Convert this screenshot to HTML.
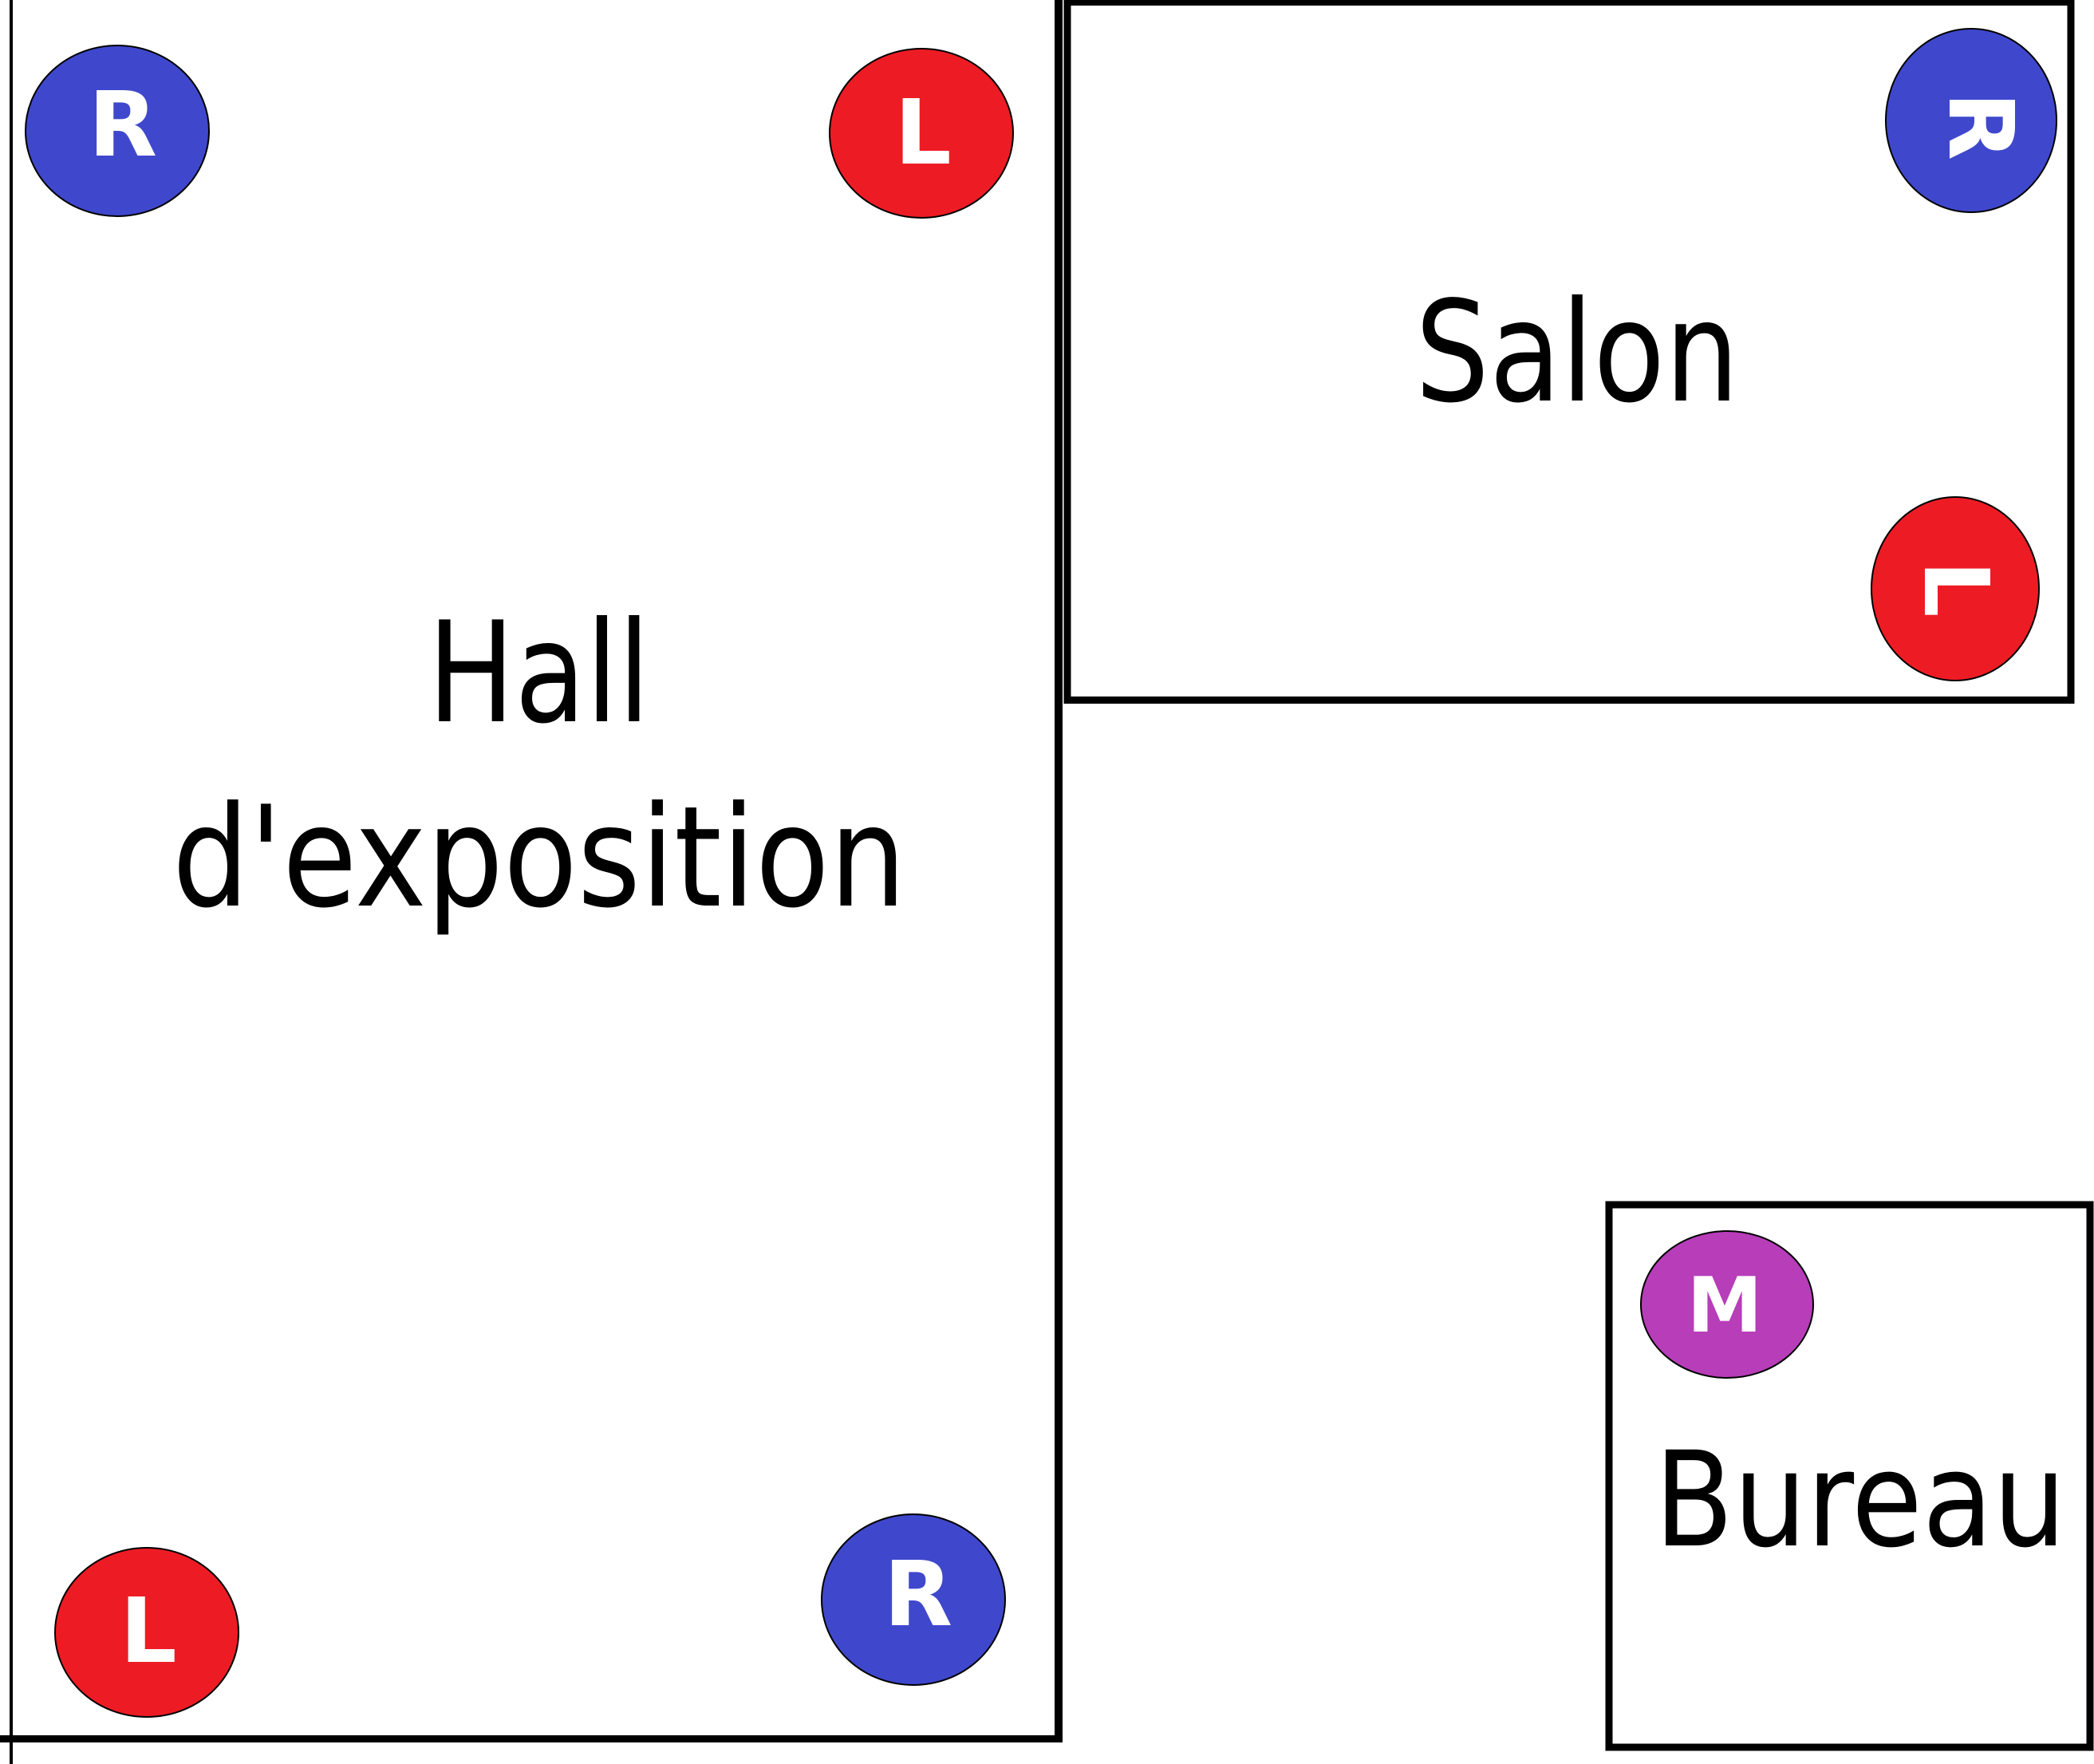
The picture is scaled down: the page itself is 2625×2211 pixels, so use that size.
<!DOCTYPE html>
<html><head><meta charset="utf-8"><style>
html,body{margin:0;padding:0;background:#fff;}
svg{display:block;}
</style></head><body>
<svg width="2625" height="2211" viewBox="0 0 2625 2211" xmlns="http://www.w3.org/2000/svg">
<rect x="0" y="0" width="2625" height="2211" fill="#fff"/>
<rect x="12" y="0" width="4" height="2211" fill="#000"/>
<rect x="1322" y="0" width="10" height="2184" fill="#000"/>
<rect x="0" y="2175" width="1332" height="9" fill="#000"/>
<rect x="1338" y="2.5" width="1258" height="875" fill="none" stroke="#000" stroke-width="9"/>
<rect x="2017" y="1510" width="603" height="680" fill="none" stroke="#000" stroke-width="9"/>

<g font-family="'DejaVu Sans','Liberation Sans',sans-serif" fill="#000">
<text x="536" y="904" font-size="175" textLength="279" lengthAdjust="spacingAndGlyphs">Hall</text>
<text x="216" y="1135" font-size="175" textLength="920" lengthAdjust="spacingAndGlyphs">d'exposition</text>
<text x="1774" y="502" font-size="175" textLength="406" lengthAdjust="spacingAndGlyphs">Salon</text>
<text x="2074" y="1937" font-size="165" textLength="516" lengthAdjust="spacingAndGlyphs">Bureau</text>
</g>

<g stroke="#000" stroke-width="2">
<ellipse cx="147" cy="164" rx="115" ry="107" fill="#3f48cc"/>
<ellipse cx="1155" cy="167" rx="115" ry="106" fill="#ed1c24"/>
<ellipse cx="184" cy="2046" rx="115" ry="106" fill="#ed1c24"/>
<ellipse cx="1145" cy="2005" rx="115" ry="107" fill="#3f48cc"/>
<ellipse cx="2471" cy="151" rx="107" ry="115" fill="#3f48cc"/>
<ellipse cx="2451" cy="738" rx="105" ry="115" fill="#ed1c24"/>
<ellipse cx="2165" cy="1635" rx="108" ry="92" fill="#b73db9"/>
</g>
<g font-family="'DejaVu Sans','Liberation Sans',sans-serif" font-weight="bold" fill="#fff" font-size="112" text-anchor="middle">
<text x="154" y="195">R</text>
<text x="1157" y="205">L</text>
<text x="186" y="2083">L</text>
<text x="1151" y="2037">R</text>
<text x="0" y="0" transform="translate(2474,158) rotate(90) translate(0,30)">R</text>
<text x="0" y="0" transform="translate(2451,738) rotate(90) translate(0,38)">L</text>
<text x="2162" y="1669" font-size="95">M</text>
</g>
</svg>
</body></html>
